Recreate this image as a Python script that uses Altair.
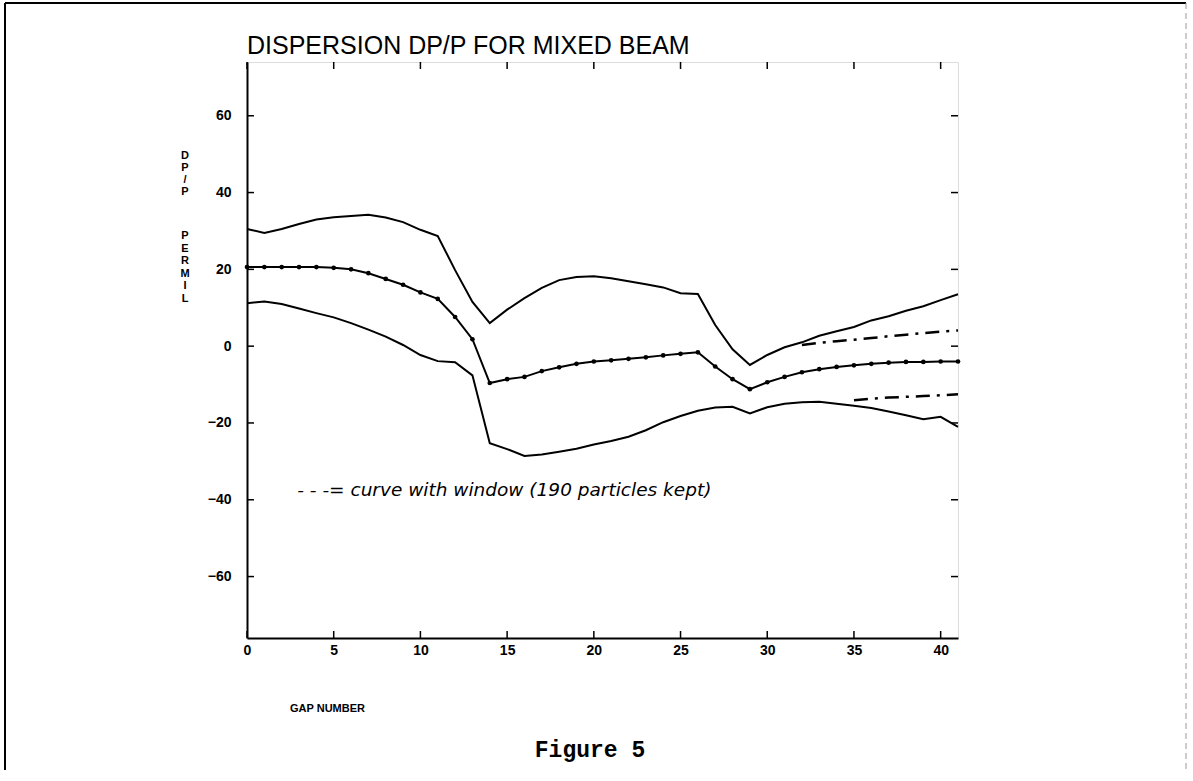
import altair as alt
import pandas as pd

# ---------------- data ----------------
gap = list(range(42))
upper = [30.5, 29.5, 30.5, 31.8, 33.0, 33.6, 33.9, 34.2, 33.5, 32.3, 30.3, 28.7,
         19.8, 11.5, 6.0, 9.5, 12.5, 15.2, 17.2, 18.0, 18.2, 17.7, 16.9, 16.1,
         15.3, 13.8, 13.6, 5.5, -0.8, -4.9, -2.3, -0.3, 1.0, 2.7, 3.9, 5.0,
         6.7, 7.8, 9.2, 10.4, 12.0, 13.5]
middle = [20.6, 20.6, 20.6, 20.6, 20.6, 20.4, 20.0, 19.0, 17.5, 16.0, 14.0, 12.3,
          7.6, 1.8, -9.6, -8.6, -8.0, -6.5, -5.5, -4.6, -4.0, -3.7, -3.3, -2.9,
          -2.4, -2.0, -1.6, -5.3, -8.6, -11.2, -9.4, -8.0, -6.8, -6.0, -5.4, -5.0,
          -4.6, -4.3, -4.1, -4.1, -4.0, -4.0]
lower = [11.2, 11.6, 11.0, 9.8, 8.6, 7.5, 6.0, 4.3, 2.5, 0.3, -2.3, -3.9,
         -4.2, -7.6, -25.3, -26.8, -28.6, -28.2, -27.5, -26.7, -25.6, -24.7, -23.6, -21.9,
         -19.8, -18.2, -16.8, -16.0, -15.8, -17.5, -15.9, -15.0, -14.6, -14.5, -15.0, -15.5,
         -16.1, -17.0, -18.0, -19.0, -18.4, -21.0]

win_up_gap = [32, 33, 34, 35, 36, 37, 38, 39, 40, 41]
win_up = [0.3, 0.9, 1.3, 1.7, 2.1, 2.6, 3.0, 3.4, 3.8, 4.1]
win_lo_gap = [35, 36, 37, 38, 39, 40, 41]
win_lo = [-14.1, -13.7, -13.4, -13.2, -13.0, -12.8, -12.5]

x_ticks = [0, 5, 10, 15, 20, 25, 30, 35, 40]
y_ticks = [-60, -40, -20, 0, 20, 40, 60]

title_text = "DISPERSION DP/P FOR MIXED BEAM"
x_title = "GAP NUMBER"
y_title_a = ["D", "P", "/", "P"]
y_title_b = ["P", "E", "R", "M", "I", "L"]
note_text = "- - -= curve with window (190 particles kept)"
note_x = [2.9]
note_y = [-37.5]
caption = "Figure 5"

# ---------------- layout ----------------
W, H = 711, 576
XD = [0, 41]
YD = [-76, 74]
LABEL_FONT = "Liberation Sans"

env = pd.DataFrame({
    "gap": gap * 2,
    "val": upper + lower,
    "series": ["upper"] * len(gap) + ["lower"] * len(gap),
})
mid = pd.DataFrame({"gap": gap, "val": middle})
win = pd.DataFrame({
    "gap": win_up_gap + win_lo_gap,
    "val": win_up + win_lo,
    "series": ["up"] * len(win_up_gap) + ["lo"] * len(win_lo_gap),
})

xs = alt.Scale(domain=XD, nice=False, zero=False)
ys = alt.Scale(domain=YD, nice=False, zero=False)

x_axis = alt.Axis(values=x_ticks, tickSize=0, labelFont=LABEL_FONT, labelFontWeight="bold",
                  labelFontSize=14, labelColor="black", labelPadding=5, grid=False,
                  domainColor="black", domainWidth=2, title=x_title, titleFont=LABEL_FONT,
                  titleFontWeight="bold", titleFontSize=11, titleColor="black",
                  titleX=80, titleY=64, titleAnchor="middle", labelFlush=False)
y_axis = alt.Axis(values=y_ticks, tickSize=0, labelFont=LABEL_FONT, labelFontWeight="bold",
                  labelFontSize=14, labelColor="black", labelPadding=16, grid=False,
                  domainColor="black", domainWidth=2, title=None)

lines = alt.Chart(env).mark_line(color="black", strokeWidth=2).encode(
    x=alt.X("gap:Q", scale=xs, axis=x_axis),
    y=alt.Y("val:Q", scale=ys, axis=y_axis),
    detail="series:N",
)
mid_line = alt.Chart(mid).mark_line(
    color="black", strokeWidth=2,
    point=alt.OverlayMarkDef(filled=True, color="black", size=22),
).encode(x=alt.X("gap:Q", scale=xs), y=alt.Y("val:Q", scale=ys))

win_lines = alt.Chart(win).mark_line(color="black", strokeWidth=2.5,
                                     strokeDash=[14, 7, 3, 7]).encode(
    x=alt.X("gap:Q", scale=xs), y=alt.Y("val:Q", scale=ys), detail="series:N")

# inward tick marks on all four sides
xt = pd.DataFrame({"t": x_ticks})
yt = pd.DataFrame({"t": y_ticks})
tk_bottom = alt.Chart(xt).mark_rule(color="black", strokeWidth=1.5).encode(
    x=alt.X("t:Q", scale=xs), y=alt.value(H), y2=alt.value(H - 7))
tk_top = alt.Chart(xt).mark_rule(color="black", strokeWidth=1.5).encode(
    x=alt.X("t:Q", scale=xs), y=alt.value(0), y2=alt.value(7))
tk_left = alt.Chart(yt).mark_rule(color="black", strokeWidth=1.5).encode(
    y=alt.Y("t:Q", scale=ys), x=alt.value(0), x2=alt.value(7))
tk_right = alt.Chart(yt).mark_rule(color="black", strokeWidth=1.5).encode(
    y=alt.Y("t:Q", scale=ys), x=alt.value(W), x2=alt.value(W - 7))

note = alt.Chart(pd.DataFrame({"x": note_x, "y": note_y, "t": [note_text]})).mark_text(
    align="left", baseline="middle", font="DejaVu Sans", fontStyle="italic",
    fontSize=18.5, color="black").encode(
    x=alt.X("x:Q", scale=xs), y=alt.Y("y:Q", scale=ys), text="t:N")

b = pd.DataFrame({"k": [0]})

# titles as text
title_mark = alt.Chart(b).mark_text(
    text=title_text, align="left", baseline="alphabetic", font=LABEL_FONT,
    fontSize=25, color="black").encode(x=alt.value(0), y=alt.value(-8))
ytitle_a = alt.Chart(b).mark_text(
    text=y_title_a, align="center", baseline="top", font=LABEL_FONT, fontWeight="bold",
    fontSize=11, lineHeight=12, color="black").encode(x=alt.value(-62), y=alt.value(88))
ytitle_b = alt.Chart(b).mark_text(
    text=y_title_b, align="center", baseline="top", font=LABEL_FONT, fontWeight="bold",
    fontSize=11, lineHeight=12.5, color="black").encode(x=alt.value(-62), y=alt.value(168))

cap = alt.Chart(pd.DataFrame({"t": [caption]})).mark_text(
    align="center", baseline="middle", font="Liberation Mono", fontWeight="bold",
    fontSize=23, color="black").encode(x=alt.value(343), y=alt.value(688), text="t:N")

# page frame
frame_top = alt.Chart(b).mark_rule(color="black", strokeWidth=2).encode(
    x=alt.value(-242), x2=alt.value(W + 228), y=alt.value(-59))
frame_left = alt.Chart(b).mark_rule(color="black", strokeWidth=2).encode(
    x=alt.value(-242), y=alt.value(-59), y2=alt.value(H + 132))
frame_right = alt.Chart(b).mark_rule(color="#999999", strokeWidth=1,
                                     strokeDash=[6, 4]).encode(
    x=alt.value(W + 228), y=alt.value(-59), y2=alt.value(H + 132))

chart = alt.layer(
    frame_top, frame_left, frame_right,
    lines, mid_line, win_lines, tk_bottom, tk_top, tk_left, tk_right, note,
    title_mark, ytitle_a, ytitle_b, cap,
).properties(
    width=W, height=H,
    padding={"left": 4, "top": 2, "right": 0, "bottom": 0},
).configure_view(stroke="black", strokeWidth=2).configure(background="white")

chart.save("out.html", embed_options={"renderer": "svg", "actions": False})
